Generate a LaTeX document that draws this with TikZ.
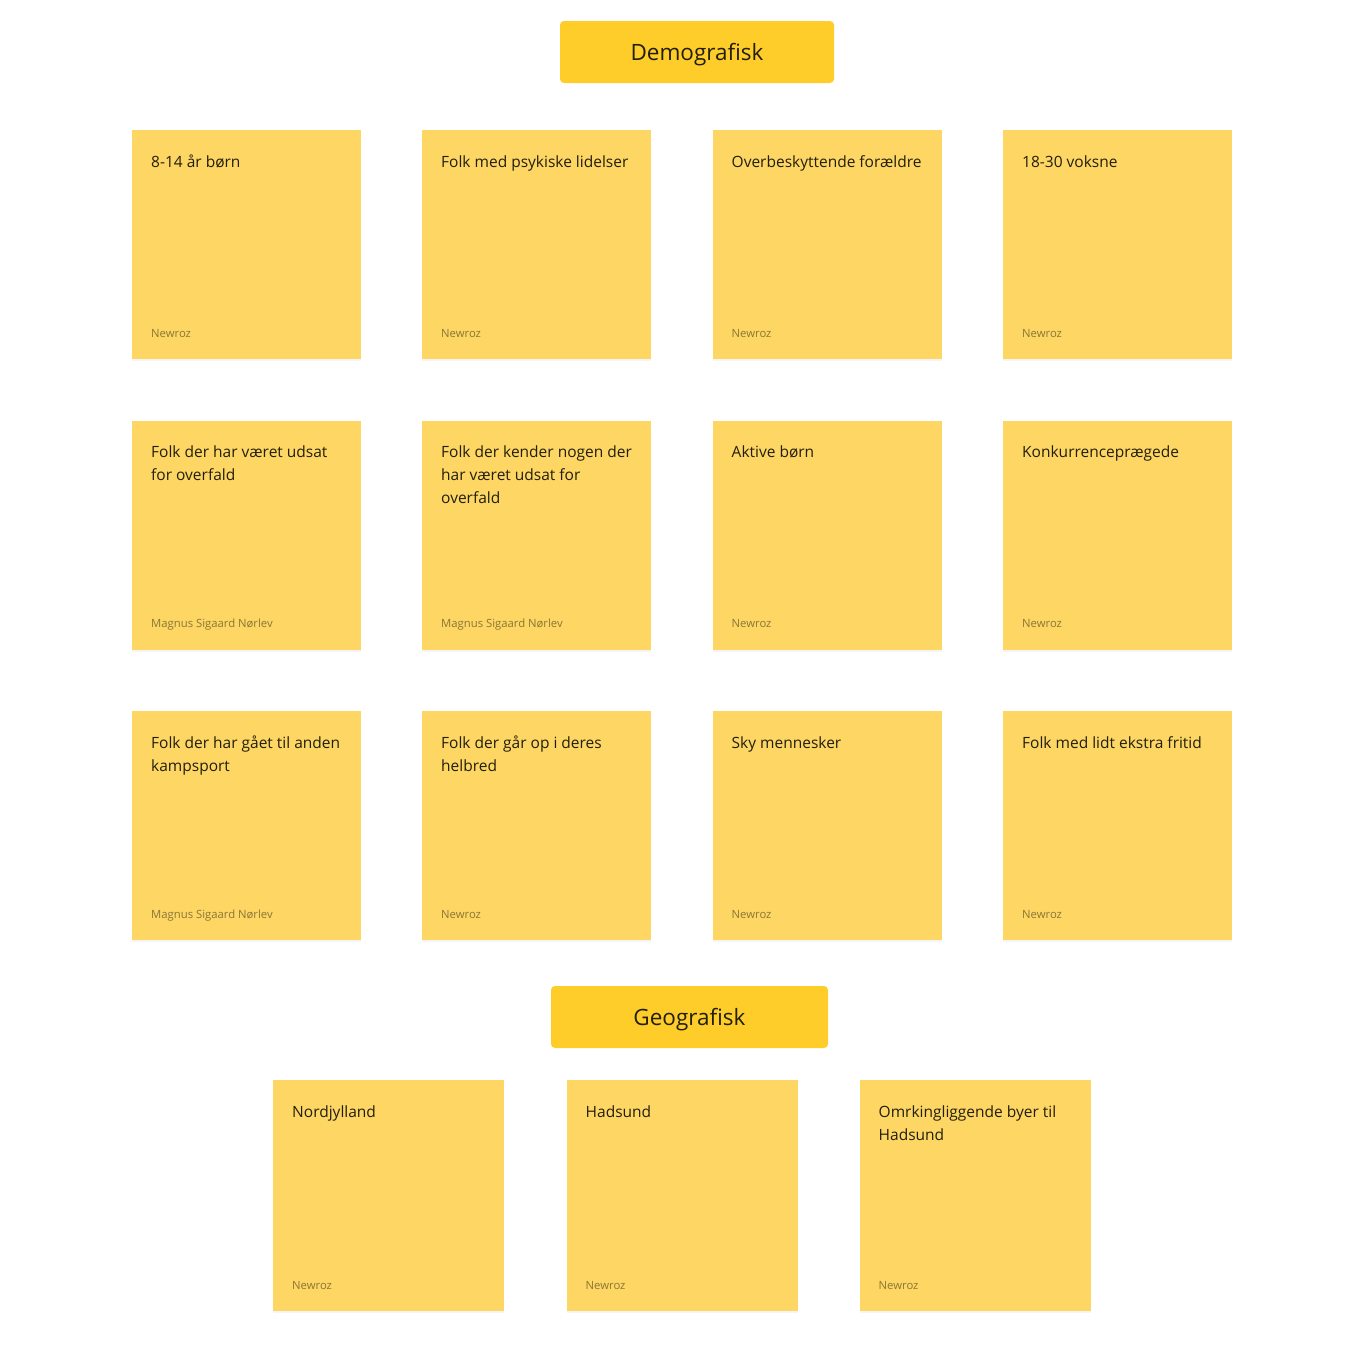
\documentclass[tikz,border=0pt]{standalone}
\usepackage{fontspec}
\setmainfont{Open Sans}
\usetikzlibrary{shadows}
\definecolor{stickyfill}{HTML}{FDD663}
\definecolor{headfill}{HTML}{FFCD29}
\definecolor{inkcol}{HTML}{231F0E}
\definecolor{whocol}{HTML}{8A7636}
\begin{document}
\begin{tikzpicture}[x=1pt,y=-1pt,
  sticky/.style={fill=stickyfill,minimum width=229,minimum height=229,anchor=north west,inner sep=0,
    drop shadow={shadow xshift=0pt,shadow yshift=-2pt,opacity=0.08}},
  note/.style={anchor=north west,inner sep=0,align=left,text=inkcol,font=\fontsize{15.5}{23}\selectfont},
  who/.style={anchor=base west,inner sep=0,text=whocol,font=\fontsize{11.3}{13}\selectfont},
  head/.style={fill=headfill,rounded corners=4pt,minimum height=62,inner sep=0,text depth=0pt,text=inkcol,font=\fontsize{22.5}{26}\selectfont}]
\useasboundingbox[fill=white] (0,0) rectangle (1364,1352);
% headings
\node[head,minimum width=274] (demo) at (697,52) {Demografisk};
\node[head,minimum width=277] (geo) at (689.5,1017) {Geografisk};
% row 1
\node[sticky] (a1) at (132,130) {};
\node[note] (a1t) at ([xshift=19pt,yshift=-21pt]a1.north west) {\strut 8-14 år børn};
\node[who] (a1w) at ([xshift=19pt,yshift=22pt]a1.south west) {Newroz};
\node[sticky] (a2) at (422,130) {};
\node[note] (a2t) at ([xshift=19pt,yshift=-21pt]a2.north west) {\strut Folk med psykiske lidelser};
\node[who] (a2w) at ([xshift=19pt,yshift=22pt]a2.south west) {Newroz};
\node[sticky] (a3) at (712.5,130) {};
\node[note] (a3t) at ([xshift=19pt,yshift=-21pt]a3.north west) {\strut Overbeskyttende forældre};
\node[who] (a3w) at ([xshift=19pt,yshift=22pt]a3.south west) {Newroz};
\node[sticky] (a4) at (1003,130) {};
\node[note] (a4t) at ([xshift=19pt,yshift=-21pt]a4.north west) {\strut 18-30 voksne};
\node[who] (a4w) at ([xshift=19pt,yshift=22pt]a4.south west) {Newroz};
% row 2
\node[sticky] (b1) at (132,420.5) {};
\node[note] (b1t) at ([xshift=19pt,yshift=-21pt]b1.north west) {\strut Folk der har været udsat\\for overfald};
\node[who] (b1w) at ([xshift=19pt,yshift=22pt]b1.south west) {Magnus Sigaard Nørlev};
\node[sticky] (b2) at (422,420.5) {};
\node[note] (b2t) at ([xshift=19pt,yshift=-21pt]b2.north west) {\strut Folk der kender nogen der\\har været udsat for\\overfald};
\node[who] (b2w) at ([xshift=19pt,yshift=22pt]b2.south west) {Magnus Sigaard Nørlev};
\node[sticky] (b3) at (712.5,420.5) {};
\node[note] (b3t) at ([xshift=19pt,yshift=-21pt]b3.north west) {\strut Aktive børn};
\node[who] (b3w) at ([xshift=19pt,yshift=22pt]b3.south west) {Newroz};
\node[sticky] (b4) at (1003,420.5) {};
\node[note] (b4t) at ([xshift=19pt,yshift=-21pt]b4.north west) {\strut Konkurrenceprægede};
\node[who] (b4w) at ([xshift=19pt,yshift=22pt]b4.south west) {Newroz};
% row 3
\node[sticky] (c1) at (132,711) {};
\node[note] (c1t) at ([xshift=19pt,yshift=-21pt]c1.north west) {\strut Folk der har gået til anden\\kampsport};
\node[who] (c1w) at ([xshift=19pt,yshift=22pt]c1.south west) {Magnus Sigaard Nørlev};
\node[sticky] (c2) at (422,711) {};
\node[note] (c2t) at ([xshift=19pt,yshift=-21pt]c2.north west) {\strut Folk der går op i deres\\helbred};
\node[who] (c2w) at ([xshift=19pt,yshift=22pt]c2.south west) {Newroz};
\node[sticky] (c3) at (712.5,711) {};
\node[note] (c3t) at ([xshift=19pt,yshift=-21pt]c3.north west) {\strut Sky mennesker};
\node[who] (c3w) at ([xshift=19pt,yshift=22pt]c3.south west) {Newroz};
\node[sticky] (c4) at (1003,711) {};
\node[note] (c4t) at ([xshift=19pt,yshift=-21pt]c4.north west) {\strut Folk med lidt ekstra fritid};
\node[who] (c4w) at ([xshift=19pt,yshift=22pt]c4.south west) {Newroz};
% geografisk
\node[sticky,minimum width=231,minimum height=231] (d1) at (273,1080) {};
\node[note] (d1t) at ([xshift=19pt,yshift=-21pt]d1.north west) {\strut Nordjylland};
\node[who] (d1w) at ([xshift=19pt,yshift=22pt]d1.south west) {Newroz};
\node[sticky,minimum width=231,minimum height=231] (d2) at (566.5,1080) {};
\node[note] (d2t) at ([xshift=19pt,yshift=-21pt]d2.north west) {\strut Hadsund};
\node[who] (d2w) at ([xshift=19pt,yshift=22pt]d2.south west) {Newroz};
\node[sticky,minimum width=231,minimum height=231] (d3) at (859.5,1080) {};
\node[note] (d3t) at ([xshift=19pt,yshift=-21pt]d3.north west) {\strut Omrkingliggende byer til\\Hadsund};
\node[who] (d3w) at ([xshift=19pt,yshift=22pt]d3.south west) {Newroz};
\end{tikzpicture}
\end{document}
